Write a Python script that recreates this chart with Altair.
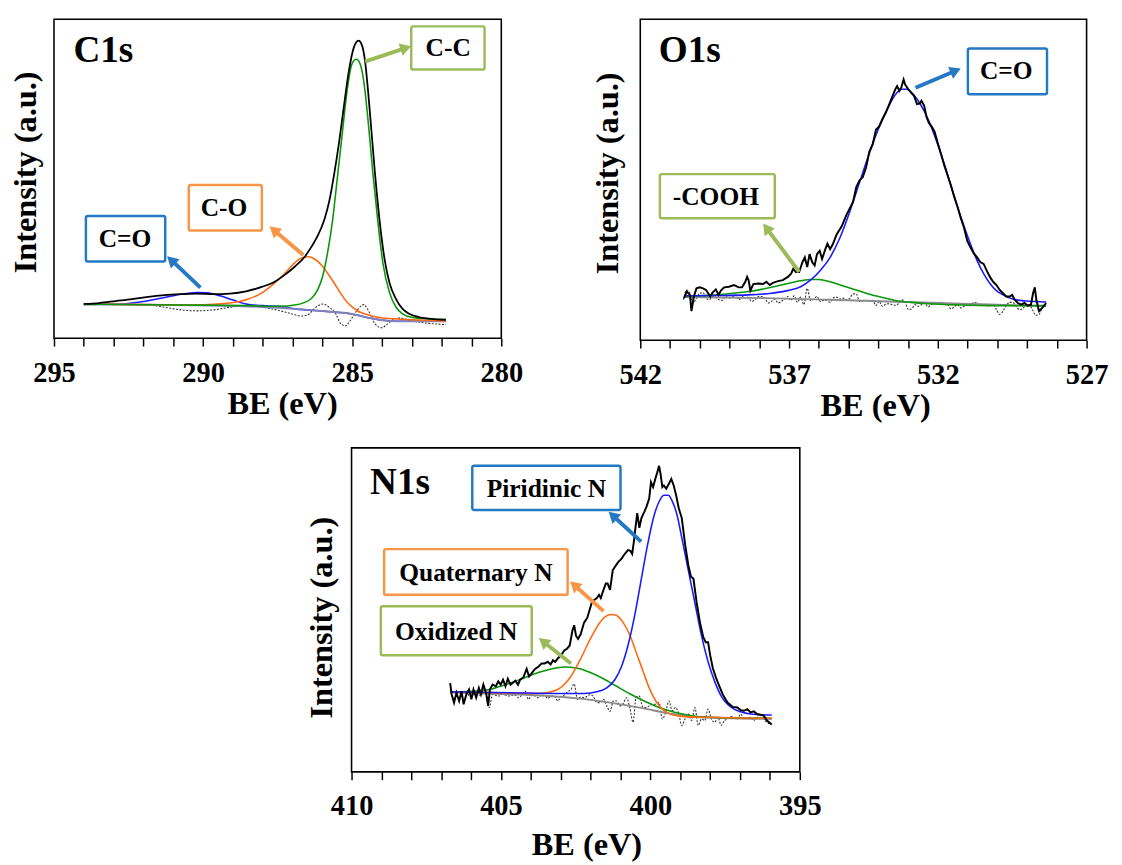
import math
import altair as alt
import pandas as pd

FONT = "Liberation Serif"

# ---------------- C1s panel (BE in eV, intensity in a.u.) ----------------
c1_ev_data = [294.00, 293.48, 292.93, 292.38, 291.84, 291.29, 290.74, 290.20, 289.65, 289.10,
              288.56, 288.01, 287.57, 287.25, 286.92, 286.59, 286.37, 286.15, 285.93, 285.77,
              285.61, 285.44, 285.28, 285.11, 284.95, 284.79, 284.68, 284.57, 284.46, 284.35,
              284.24, 284.08, 283.91, 283.75, 283.53, 283.31, 283.09, 282.77, 282.44, 281.86]
c1_i_data = [105, 108, 114, 120, 127, 132, 135, 137, 135, 137,
             144, 158, 175, 195, 220, 250, 280, 315, 365, 420,
             500, 600, 710, 820, 890, 912, 900, 850, 750, 630,
             510, 360, 240, 170, 120, 90, 75, 65, 60, 56]

c1_ev_cc = [294.00, 290.74, 288.56, 287.46, 286.92, 286.59, 286.37, 286.15, 285.99, 285.83,
            285.66, 285.50, 285.33, 285.17, 285.01, 284.86, 284.73, 284.60, 284.46, 284.30,
            284.13, 283.97, 283.75, 283.53, 283.31, 282.98, 282.55, 281.86]
c1_i_cc = [104, 102, 100, 98, 102, 110, 122, 150, 190, 260,
           360, 490, 630, 760, 840, 855, 840, 780, 660, 500,
           350, 230, 140, 95, 75, 64, 60, 58]

c1_ev_co = [294.00, 291.84, 290.20, 289.65, 289.10, 288.56, 288.01, 287.57, 287.25, 286.92,
            286.70, 286.48, 286.26, 286.04, 285.83, 285.61, 285.39, 285.17, 284.84, 284.40,
            283.97, 283.31, 282.55, 281.86]
c1_i_co = [105, 103, 102, 104, 108, 118, 140, 172, 200, 232,
           246, 250, 243, 225, 200, 170, 138, 110, 85, 70,
           62, 58, 55, 53]

c1_ev_cdo = [294.00, 292.93, 292.38, 291.84, 291.29, 290.74, 290.20, 289.87, 289.43, 288.99,
             288.56, 288.01, 287.46, 286.92, 285.83, 285.06, 284.40, 283.97, 283.53, 281.86]
c1_i_cdo = [104, 104, 108, 115, 125, 135, 140, 139, 130, 117,
            105, 100, 98, 90, 82, 75, 62, 55, 52, 52]

c1_ev_bg = [294.00, 291.84, 289.65, 288.01, 286.92, 285.83, 285.06, 284.40, 283.97, 283.53, 281.86]
c1_i_bg = [104, 103, 100, 96, 90, 82, 75, 62, 55, 52, 52]

c1_ev_res = [294.00, 292.93, 291.84, 291.29, 290.74, 290.20, 289.65, 289.10, 288.56, 288.01,
             287.46, 287.03, 286.70, 286.48, 286.26, 285.99, 285.77, 285.55, 285.39, 285.22,
             285.06, 284.84, 284.62, 284.46, 284.24, 284.02, 283.80, 283.58, 283.37, 283.09,
             282.66, 281.86]
c1_i_res = [102, 104, 102, 95, 87, 84, 87, 95, 100, 95,
            85, 75, 68, 72, 92, 105, 95, 75, 45, 38,
            55, 85, 103, 85, 45, 32, 45, 60, 62, 55,
            48, 42]

# ---------------- O1s panel ----------------
o1_ev_data = [540.53, 540.44, 540.33, 540.28, 540.20, 540.11, 540.00, 539.89, 539.79, 539.65,
              539.57, 539.46, 539.37, 539.29, 539.18, 539.02, 538.85, 538.69, 538.58, 538.47,
              538.41, 538.36, 538.30, 538.20, 538.03, 537.87, 537.76, 537.65, 537.54, 537.37,
              537.21, 537.04, 536.93, 536.86, 536.77, 536.66, 536.55, 536.47, 536.39, 536.31,
              536.22, 536.14, 536.06, 535.97, 535.89, 535.78, 535.71, 535.62, 535.53, 535.40,
              535.23, 535.07, 534.96, 534.85, 534.74, 534.63, 534.52, 534.41, 534.30, 534.19,
              534.08, 533.97, 533.86, 533.75, 533.64, 533.54, 533.43, 533.37, 533.29, 533.23,
              533.15, 533.10, 532.99, 532.90, 532.80, 532.70, 532.60, 532.55, 532.46, 532.38,
              532.30, 532.20, 532.11, 532.00, 531.89, 531.78, 531.67, 531.56, 531.45, 531.34,
              531.23, 531.12, 531.01, 530.90, 530.79, 530.68, 530.57, 530.46, 530.36, 530.25,
              530.14, 530.03, 529.92, 529.81, 529.70, 529.59, 529.50, 529.42, 529.31, 529.20,
              529.09, 528.98, 528.87, 528.80, 528.74, 528.69, 528.60, 528.49, 528.36]
o1_i_data = [129, 149, 139, 89, 134, 159, 162, 159, 154, 134,
             146, 156, 139, 152, 162, 164, 169, 162, 162, 179,
             194, 184, 152, 172, 174, 172, 179, 169, 176, 181,
             184, 194, 204, 219, 209, 209, 239, 254, 224, 264,
             239, 229, 264, 274, 249, 279, 296, 279, 294, 324,
             349, 384, 404, 424, 469, 490, 500, 530, 578, 600,
             645, 655, 678, 697, 721, 744, 769, 779, 764, 774,
             799, 784, 769, 759, 749, 724, 726, 734, 719, 684,
             666, 654, 639, 604, 570, 535, 505, 474, 440, 410,
             375, 345, 304, 284, 266, 254, 239, 234, 214, 194,
             179, 169, 154, 144, 134, 134, 139, 124, 114, 109,
             114, 106, 109, 144, 162, 124, 89, 99, 114]

o1_ev_cdo = [540.53, 539.46, 538.36, 537.59, 537.04, 536.61, 536.28, 535.95, 535.62, 535.29,
             534.96, 534.63, 534.30, 533.97, 533.64, 533.43, 533.21, 533.04, 532.88, 532.66,
             532.44, 532.22, 532.00, 531.78, 531.56, 531.34, 531.12, 530.90, 530.68, 530.46,
             530.25, 530.03, 529.81, 529.48, 529.04, 528.36]
o1_i_cdo = [136, 137, 139, 144, 152, 164, 184, 214, 254, 314,
            394, 484, 574, 654, 719, 752, 769, 769, 759, 734,
            699, 654, 599, 539, 474, 409, 349, 294, 244, 204,
            174, 152, 139, 126, 120, 117]

o1_ev_cooh = [540.53, 539.46, 538.36, 537.59, 537.04, 536.61, 536.22, 536.00, 535.62, 535.18,
              534.74, 534.30, 533.86, 533.43, 532.88, 532.33, 531.23, 530.14, 528.36]
o1_i_cooh = [134, 139, 149, 162, 174, 182, 186, 186, 179, 166,
             154, 141, 131, 122, 116, 112, 108, 106, 106]

o1_ev_bg = [540.53, 537.81, 535.62, 533.43, 531.23, 528.36]
o1_i_bg = [132, 129, 124, 118, 112, 104]

o1_ev_res = [540.55, 540.44, 540.33, 540.22, 540.11, 540.00, 539.89, 539.79, 539.68, 539.57,
             539.46, 539.35, 539.24, 539.13, 539.02, 538.91, 538.80, 538.69, 538.58, 538.47,
             538.36, 538.25, 538.14, 538.03, 537.92, 537.81, 537.70, 537.59, 537.48, 537.37,
             537.26, 537.15, 537.04, 536.94, 536.83, 536.72, 536.61, 536.50, 536.39, 536.28,
             536.17, 536.06, 535.95, 535.84, 535.73, 535.62, 535.51, 535.40, 535.29, 535.18,
             535.07, 534.96, 534.85, 534.74, 534.63, 534.52, 534.41, 534.30, 534.19, 534.08,
             533.97, 533.86, 533.75, 533.64, 533.54, 533.43, 533.32, 533.21, 533.10, 532.99,
             532.88, 532.77, 532.66, 532.55, 532.44, 532.33, 532.22, 532.11, 532.00, 531.89,
             531.78, 531.67, 531.56, 531.45, 531.34, 531.23, 531.12, 531.01, 530.90, 530.79,
             530.68, 530.57, 530.46, 530.36, 530.25, 530.14, 530.03, 529.92, 529.81, 529.70,
             529.59, 529.48, 529.37, 529.26, 529.15, 529.04, 528.93, 528.82, 528.71, 528.60,
             528.49, 528.38]
o1_i_res = [124, 154, 144, 114, 129, 144, 146, 129, 124, 134,
            131, 124, 122, 134, 129, 132, 139, 124, 132, 138,
            129, 119, 124, 134, 134, 129, 114, 119, 126, 114,
            119, 126, 134, 122, 136, 116, 132, 109, 159, 122,
            126, 134, 119, 122, 122, 116, 130, 132, 126, 129,
            124, 128, 142, 142, 119, 120, 122, 119, 122, 106,
            119, 104, 110, 112, 109, 107, 112, 124, 116, 94,
            96, 109, 104, 109, 114, 102, 109, 112, 114, 116,
            112, 109, 96, 102, 109, 99, 104, 108, 106, 116,
            114, 106, 109, 106, 106, 109, 94, 79, 89, 106,
            116, 116, 104, 94, 96, 109, 109, 94, 76, 79,
            99, 112]

# ---------------- N1s panel ----------------
n1_ev_data = [406.70, 406.65, 406.57, 406.49, 406.40, 406.32, 406.25, 406.16, 406.07, 405.99,
              405.92, 405.83, 405.74, 405.67, 405.59, 405.50, 405.43, 405.37, 405.28, 405.17,
              405.09, 405.01, 404.93, 404.85, 404.77, 404.68, 404.61, 404.52, 404.43, 404.36,
              404.25, 404.14, 404.06, 403.97, 403.86, 403.75, 403.64, 403.54, 403.43, 403.34,
              403.26, 403.19, 403.10, 402.99, 402.88, 402.79, 402.70, 402.61, 402.55, 402.49,
              402.42, 402.33, 402.22, 402.11, 402.03, 401.95, 401.87, 401.79, 401.72, 401.66,
              401.57, 401.49, 401.43, 401.35, 401.26, 401.19, 401.08, 400.97, 400.86, 400.75,
              400.67, 400.61, 400.55, 400.50, 400.44, 400.37, 400.30, 400.20, 400.13, 400.04,
              399.98, 399.91, 399.82, 399.77, 399.71, 399.66, 399.60, 399.55, 399.47, 399.38,
              399.30, 399.22, 399.14, 399.05, 398.95, 398.84, 398.73, 398.64, 398.56, 398.45,
              398.34, 398.23, 398.15, 398.07, 398.00, 397.91, 397.80, 397.69, 397.58, 397.42,
              397.25, 397.09, 396.98, 396.87, 396.76, 396.65, 396.54, 396.43, 396.32, 396.21,
              396.10, 395.94]
n1_i_data = [272, 237, 212, 242, 217, 247, 207, 237, 252, 222,
             252, 227, 257, 237, 267, 242, 202, 252, 267, 262,
             277, 267, 282, 262, 285, 267, 272, 279, 267, 282,
             289, 315, 292, 302, 315, 322, 332, 332, 337, 329,
             342, 337, 347, 357, 372, 377, 387, 432, 449, 417,
             407, 422, 457, 472, 497, 522, 527, 532, 542, 532,
             557, 577, 577, 557, 617, 627, 642, 652, 667, 679,
             677, 667, 707, 747, 792, 747, 777, 797, 812, 837,
             887, 872, 902, 917, 937, 912, 872, 877, 867, 882,
             897, 877, 847, 807, 777, 697, 632, 597, 592, 517,
             457, 412, 397, 397, 357, 317, 287, 262, 237, 212,
             199, 197, 189, 187, 192, 182, 185, 177, 175, 172,
             157, 145]

n1_ev_pyr = [406.70, 404.63, 402.99, 402.22, 401.79, 401.46, 401.19, 400.97, 400.75, 400.53,
             400.31, 400.09, 399.87, 399.71, 399.55, 399.40, 399.27, 399.11, 398.95, 398.73,
             398.51, 398.29, 398.07, 397.85, 397.63, 397.42, 397.20, 396.98, 396.65, 396.32, 395.94]
n1_i_pyr = [245, 242, 240, 240, 245, 257, 282, 322, 387, 477,
            587, 697, 787, 827, 847, 847, 829, 787, 717, 617,
            517, 417, 337, 277, 232, 207, 192, 184, 177, 175, 174]

n1_ev_q = [406.70, 404.63, 403.75, 403.32, 402.99, 402.66, 402.33, 402.01, 401.73, 401.51,
           401.30, 401.13, 400.91, 400.69, 400.48, 400.26, 400.04, 399.82, 399.60, 399.27,
           398.84, 398.07, 396.98, 395.94]
n1_i_q = [244, 241, 240, 245, 259, 292, 347, 407, 452, 475,
          482, 479, 457, 419, 367, 312, 257, 217, 192, 175,
          169, 167, 165, 164]

n1_ev_ox = [406.70, 405.94, 405.39, 404.85, 404.30, 403.75, 403.32, 402.88, 402.44, 402.01,
            401.57, 401.13, 400.69, 400.26, 399.71, 399.16, 398.62, 398.07, 396.98, 395.94]
n1_i_ox = [245, 247, 252, 267, 285, 304, 315, 321, 317, 304,
           285, 262, 239, 219, 197, 182, 172, 167, 165, 164]

n1_ev_bg = [406.70, 405.17, 403.54, 402.44, 401.35, 400.26, 399.38, 398.62, 397.52, 395.94]
n1_i_bg = [244, 239, 233, 225, 212, 195, 179, 169, 165, 162]

n1_ev_res = [406.70, 406.60, 406.49, 406.38, 406.27, 406.16, 406.05, 405.94, 405.83, 405.72,
             405.61, 405.50, 405.39, 405.28, 405.17, 405.07, 404.96, 404.85, 404.74, 404.63,
             404.52, 404.41, 404.30, 404.19, 404.08, 403.97, 403.86, 403.75, 403.64, 403.54,
             403.43, 403.32, 403.21, 403.10, 402.99, 402.88, 402.77, 402.66, 402.55, 402.44,
             402.33, 402.22, 402.11, 402.01, 401.90, 401.79, 401.68, 401.57, 401.46, 401.35,
             401.24, 401.13, 401.02, 400.91, 400.80, 400.69, 400.58, 400.48, 400.37, 400.26,
             400.15, 400.04, 399.93, 399.82, 399.71, 399.60, 399.49, 399.38, 399.27, 399.16,
             399.05, 398.95, 398.84, 398.73, 398.62, 398.51, 398.40, 398.29, 398.18, 398.07,
             397.96, 397.85, 397.74, 397.63, 397.52, 397.42, 397.31, 397.20, 397.09, 396.98,
             396.87, 396.76, 396.65, 396.54, 396.43, 396.32, 396.22, 396.11, 396.00]
n1_i_res = [242, 244, 245, 239, 245, 247, 232, 235, 242, 235,
            239, 247, 197, 237, 234, 232, 237, 235, 232, 235,
            235, 227, 235, 247, 222, 235, 232, 227, 235, 234,
            225, 232, 232, 217, 230, 235, 245, 252, 269, 222,
            229, 227, 232, 237, 229, 212, 212, 222, 202, 185,
            217, 217, 202, 209, 227, 197, 152, 227, 232, 199,
            197, 202, 207, 207, 212, 162, 182, 217, 187, 197,
            177, 142, 162, 177, 157, 197, 142, 162, 157, 192,
            162, 152, 167, 142, 157, 162, 169, 167, 162, 177,
            162, 165, 167, 157, 167, 165, 162, 152, 147]

# ---------------- annotations (label boxes, arrows, panel names) ----------------
# boxes: (ev_left, ev_right, i_bottom, i_top, text_ev, text_i, text, color)
c1_boxes = [(293.93, 291.27, 235, 375, 292.62, 305, "C=O", "#2379c4"),
            (290.48, 288.03, 330, 470, 289.30, 400, "C-O", "#f79646"),
            (283.02, 280.56, 824, 956, 281.78, 890, "C-C", "#9bbb59")]
o1_boxes = [(541.34, 537.48, 374, 509, 539.46, 439, "-COOH", "#9bbb59"),
            (530.99, 528.33, 754, 894, 529.70, 824, "C=O", "#2379c4")]
n1_boxes = [(405.96, 401.00, 802, 937, 403.48, 867, "Piridinic N", "#2379c4"),
            (408.91, 402.77, 542, 682, 405.84, 607, "Quaternary N", "#f79646"),
            (409.02, 403.97, 357, 507, 406.50, 427, "Oxidized N", "#9bbb59")]
# arrows: (ev_start, i_start, ev_tip, i_tip, color)
c1_arrows = [(290.09, 155, 291.07, 240, "#2379c4"),
             (286.64, 255, 287.63, 332, "#f79646"),
             (284.57, 848, 283.20, 890, "#9bbb59")]
o1_arrows = [(536.66, 209, 537.76, 344, "#9bbb59"),
             (532.75, 774, 531.40, 826, "#2379c4")]
n1_arrows = [(400.31, 705, 401.26, 785, "#2379c4"),
             (401.57, 492, 402.55, 572, "#f79646"),
             (402.66, 332, 403.59, 399, "#9bbb59")]


def panel(name, name_ev, name_i, lo, hi, W, H, ymax, curves, boxes, arrows,
          ytitle_x, ytitle_y, xtitle_x, xtitle_y):
    xaxis = alt.Axis(values=list(range(lo, hi + 1)), format="d",
                     labelExpr=f"(datum.value - {lo}) % 5 === 0 ? datum.label : ''",
                     domain=False, grid=False, ticks=True, tickSize=8, tickWidth=1.5,
                     tickColor="black", labelFont=FONT, labelFontSize=29,
                     labelFontWeight="bold", labelColor="black", labelPadding=13,
                     labelFlush=False, labelOverlap=False, title="BE (eV)",
                     titleFont=FONT, titleFontSize=33, titleFontWeight="bold",
                     titleColor="black", titleX=xtitle_x, titleY=xtitle_y,
                     titleBaseline="alphabetic", titleAlign="center")
    yaxis = alt.Axis(domain=False, grid=False, ticks=False, labels=False,
                     title="Intensity (a.u.)", titleFont=FONT, titleFontSize=33,
                     titleFontWeight="bold", titleColor="black", titleX=ytitle_x,
                     titleY=ytitle_y, titleBaseline="alphabetic", titleAlign="center",
                     titleAngle=270)
    xs = alt.Scale(domain=[lo, hi], reverse=True, nice=False, zero=False)
    ys = alt.Scale(domain=[0, ymax], nice=False, zero=True)
    X = alt.X("ev:Q", scale=xs, axis=xaxis)
    Y = alt.Y("i:Q", scale=ys, axis=yaxis)

    layers = []
    for ev, iv, color, width, dash, interp in curves:
        df = pd.DataFrame({"ev": ev, "i": iv})
        kw = dict(color=color, strokeWidth=width, interpolate=interp)
        if dash:
            kw["strokeDash"] = dash
        layers.append(alt.Chart(df).mark_line(**kw).encode(x=X, y=Y))

    bdf = pd.DataFrame([{"ev": b[0], "ev2": b[1], "i": b[2], "i2": b[3],
                         "tev": b[4], "ti": b[5], "t": b[6], "c": b[7]} for b in boxes])
    layers.append(alt.Chart(bdf).mark_rect(fill="white", strokeWidth=2.5, cornerRadius=2).encode(
        x=X, x2="ev2:Q", y=Y, y2="i2:Q",
        stroke=alt.Color("c:N", scale=None)))
    layers.append(alt.Chart(bdf).mark_text(font=FONT, fontSize=26, fontWeight="bold",
                                           color="black", align="center", baseline="middle").encode(
        x=alt.X("tev:Q", scale=xs, axis=xaxis), y=alt.Y("ti:Q", scale=ys, axis=yaxis), text="t:N"))

    kx = W / (hi - lo)
    ky = H / ymax
    rows = []
    for e0, i0, e1, i1, c in arrows:
        dx = -(e1 - e0) * kx
        dy = -(i1 - i0) * ky
        ang = (math.degrees(math.atan2(dx, -dy)) + 360.0) % 360.0
        rows.append({"ev": e0, "i": i0, "ev2": e1, "i2": i1, "c": c, "a": ang})
    adf = pd.DataFrame(rows)
    layers.append(alt.Chart(adf).mark_rule(strokeWidth=4).encode(
        x=X, x2="ev2:Q", y=Y, y2="i2:Q", color=alt.Color("c:N", scale=None)))
    layers.append(alt.Chart(adf).mark_point(shape="triangle-up", filled=True, size=170, opacity=1).encode(
        x=alt.X("ev2:Q", scale=xs, axis=xaxis), y=alt.Y("i2:Q", scale=ys, axis=yaxis),
        color=alt.Color("c:N", scale=None), angle=alt.Angle("a:Q", scale=None)))

    ldf = pd.DataFrame({"ev": [name_ev], "i": [name_i], "t": [name]})
    layers.append(alt.Chart(ldf).mark_text(font=FONT, fontSize=38, fontWeight="bold", color="black",
                                           align="left", baseline="alphabetic").encode(
        x=X, y=Y, text="t:N"))
    return alt.layer(*layers).properties(width=W, height=H)


GRAY = "#8c8c8c"
RES = "#333333"
DOT = [2, 1.5]
c1 = panel("C1s", 294.35, 848, 280, 295, 457, 326, 978,
           [(c1_ev_res, c1_i_res, RES, 1.1, DOT, "monotone"),
            (c1_ev_cdo, c1_i_cdo, "#1a1aff", 1.6, None, "monotone"),
            (c1_ev_bg, c1_i_bg, "#8282b8", 2, None, "monotone"),
            (c1_ev_co, c1_i_co, "#ff6a10", 1.6, None, "monotone"),
            (c1_ev_cc, c1_i_cc, "#0a960a", 1.6, None, "monotone"),
            (c1_ev_data, c1_i_data, "black", 1.8, None, "monotone")],
           c1_boxes, c1_arrows, -19, 156, 233, 77)
o1 = panel("O1s", 541.38, 852, 527, 542, 456, 328, 984,
           [(o1_ev_res, o1_i_res, RES, 1.1, DOT, "monotone"),
            (o1_ev_bg, o1_i_bg, GRAY, 2, None, "monotone"),
            (o1_ev_cooh, o1_i_cooh, "#0a960a", 1.6, None, "monotone"),
            (o1_ev_cdo, o1_i_cdo, "#1a1aff", 1.6, None, "monotone"),
            (o1_ev_data, o1_i_data, "black", 2, None, "linear")],
           o1_boxes, o1_arrows, -23, 157, 240, 77)
n1 = panel("N1s", 409.38, 852, 395, 410, 458, 331, 992,
           [(n1_ev_res, n1_i_res, RES, 1.1, DOT, "monotone"),
            (n1_ev_bg, n1_i_bg, GRAY, 2, None, "monotone"),
            (n1_ev_ox, n1_i_ox, "#0a960a", 1.6, None, "monotone"),
            (n1_ev_q, n1_i_q, "#ff6a10", 1.6, None, "monotone"),
            (n1_ev_pyr, n1_i_pyr, "#1a1aff", 1.6, None, "monotone"),
            (n1_ev_data, n1_i_data, "black", 2, None, "linear")],
           n1_boxes, n1_arrows, -20, 173, 240, 84)

spacer = alt.Chart(pd.DataFrame({"v": [0]})).mark_point(opacity=0).encode(
    x=alt.X("v:Q", axis=None), y=alt.Y("v:Q", axis=None)).properties(
    width=256, height=10, view=alt.ViewBackground(stroke="transparent"))

top = alt.hconcat(c1, o1, spacing=69).resolve_scale(x="independent", y="independent")
bottom = alt.hconcat(spacer, n1, spacing=0).resolve_scale(x="independent", y="independent")
chart = alt.vconcat(top, bottom, spacing=24).resolve_scale(
    x="independent", y="independent").configure_view(
    stroke="black", strokeWidth=1.6).properties(
    padding={"left": 1, "top": 1, "right": 5, "bottom": 5}, background="white")

chart.save("out.html", embed_options={"renderer": "svg", "actions": False})
